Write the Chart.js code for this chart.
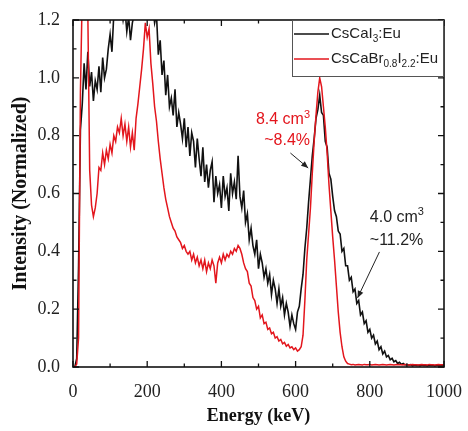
<!DOCTYPE html>
<html>
<head>
<meta charset="utf-8">
<script src="https://cdn.jsdelivr.net/npm/chart.js"></script>
<style>
  html, body { margin: 0; padding: 0; background: #fff; }
  canvas { display: block; }
</style>
</head>
<body>
<canvas id="c" width="468" height="431"></canvas>
<script>
// ---- Data ----
const energyKeV = [
  0,5,10,15,20,25,30,35,40,45,
  50,55,60,65,70,75,80,85,90,95,
  100,105,110,115,120,125,130,135,140,145,
  150,155,160,165,170,175,180,185,190,195,
  200,205,210,215,220,225,230,235,240,245,
  250,255,260,265,270,275,280,285,290,295,
  300,305,310,315,320,325,330,335,340,345,
  350,355,360,365,370,375,380,385,390,395,
  400,405,410,415,420,425,430,435,440,445,
  450,455,460,465,470,475,480,485,490,495,
  500,505,510,515,520,525,530,535,540,545,
  550,555,560,565,570,575,580,585,590,595,
  600,605,610,615,620,625,630,635,640,645,
  650,655,660,665,670,675,680,685,690,695,
  700,705,710,715,720,725,730,735,740,745,
  750,755,760,765,770,775,780,785,790,795,
  800,805,810,815,820,825,830,835,840,845,
  850,855,860,865,870,875,880,885,890,895,
  900,905,910,915,920,925,930,935,940,945,
  950,955,960,965,970,975,980,985,990,995,
  1000
];

// CsCaI3:Eu (black)
const cscai3 = [
  0.00,0.00,0.03,0.35,0.82,0.91,1.05,0.96,1.09,0.97,
  1.02,0.92,0.99,0.96,1.04,0.95,1.07,1.00,1.03,1.10,
  1.15,1.09,1.22,1.25,1.25,1.23,1.25,1.20,1.24,1.16,
  1.21,1.13,1.19,1.22,1.25,1.25,1.25,1.25,1.25,1.25,
  1.25,1.25,1.25,1.25,1.19,1.22,1.08,1.13,1.01,1.06,
  0.94,1.01,0.90,0.93,0.87,0.96,0.83,0.88,0.84,0.79,
  0.86,0.76,0.83,0.73,0.81,0.78,0.69,0.79,0.72,0.66,
  0.76,0.64,0.70,0.62,0.68,0.71,0.57,0.66,0.60,0.63,
  0.55,0.66,0.59,0.62,0.54,0.67,0.60,0.64,0.58,0.73,
  0.59,0.55,0.61,0.50,0.53,0.44,0.48,0.42,0.39,0.44,
  0.34,0.39,0.36,0.31,0.34,0.29,0.32,0.25,0.30,0.27,
  0.22,0.27,0.21,0.24,0.18,0.22,0.19,0.14,0.18,0.15,
  0.13,0.19,0.21,0.27,0.32,0.41,0.48,0.57,0.65,0.73,
  0.79,0.86,0.89,0.94,0.88,0.87,0.78,0.76,0.67,0.65,
  0.59,0.54,0.52,0.47,0.46,0.40,0.41,0.35,0.35,0.30,
  0.31,0.26,0.27,0.22,0.23,0.18,0.19,0.15,0.16,0.12,
  0.13,0.10,0.11,0.08,0.09,0.06,0.07,0.045,0.055,0.035,
  0.04,0.025,0.03,0.018,0.022,0.012,0.016,0.009,0.012,0.007,
  0.009,0.006,0.008,0.004,0.007,0.005,0.006,0.004,0.007,0.005,
  0.006,0.004,0.006,0.005,0.006,0.004,0.005,0.006,0.004,0.005,
  0.005
];

// CsCaBr0.8I2.2:Eu (red)
const cscabri = [
  0.00,0.00,0.01,0.10,0.95,1.30,1.30,1.30,1.22,0.68,
  0.56,0.52,0.55,0.60,0.69,0.68,0.74,0.70,0.75,0.72,
  0.77,0.74,0.80,0.78,0.83,0.81,0.86,0.80,0.84,0.78,
  0.83,0.76,0.81,0.75,0.86,0.91,0.97,1.03,1.10,1.19,
  1.14,1.17,1.05,0.98,0.90,0.85,0.78,0.72,0.67,0.62,
  0.58,0.55,0.52,0.50,0.48,0.47,0.45,0.44,0.43,0.41,
  0.42,0.40,0.39,0.40,0.37,0.39,0.36,0.38,0.35,0.37,
  0.34,0.37,0.33,0.36,0.34,0.37,0.35,0.29,0.36,0.38,
  0.36,0.39,0.37,0.39,0.38,0.40,0.39,0.41,0.40,0.42,
  0.41,0.39,0.36,0.34,0.33,0.29,0.28,0.24,0.23,0.20,
  0.21,0.17,0.18,0.15,0.155,0.13,0.135,0.115,0.12,0.10,
  0.105,0.09,0.095,0.08,0.085,0.072,0.078,0.066,0.07,0.06,
  0.066,0.055,0.06,0.07,0.11,0.23,0.37,0.46,0.55,0.67,
  0.78,0.87,0.95,1.00,0.97,0.90,0.83,0.74,0.63,0.54,
  0.45,0.37,0.28,0.19,0.12,0.07,0.035,0.02,0.012,0.010,
  0.008,0.009,0.007,0.008,0.009,0.008,0.007,0.009,0.008,0.008,
  0.009,0.007,0.008,0.009,0.008,0.007,0.008,0.009,0.008,0.007,
  0.008,0.009,0.008,0.007,0.008,0.009,0.008,0.008,0.007,0.009,
  0.008,0.007,0.008,0.009,0.008,0.008,0.007,0.008,0.009,0.008,
  0.008,0.007,0.009,0.008,0.008,0.007,0.008,0.009,0.008,0.008,
  0.008
];

const seriesLabels = ['CsCaI3:Eu', 'CsCaBr0.8I2.2:Eu'];
// legend text pieces: [text, isSubscript]
const legendPieces = [
  [['CsCaI', 0], ['3', 1], [':Eu', 0]],
  [['CsCaBr', 0], ['0.8', 1], ['I', 0], ['2.2', 1], [':Eu', 0]]
];
const xTickValues = [0, 200, 400, 600, 800, 1000];
const yTickValues = [0.0, 0.2, 0.4, 0.6, 0.8, 1.0, 1.2];

const BLACK = '#111111';
const RED = '#e3161d';
const SERIF = '"Liberation Serif", "Times New Roman", serif';
const SANS = '"Liberation Sans", Arial, sans-serif';

function drawSup(ctx, x, y, pieces, size, align, color) {
  // pieces: [text, mode] mode 0 normal, 1 subscript, 2 superscript
  const small = Math.round(size * 0.66);
  let total = 0;
  pieces.forEach(([t, m]) => {
    ctx.font = (m ? small : size) + 'px ' + SANS;
    total += ctx.measureText(t).width;
  });
  let cx = align === 'right' ? x - total : x;
  ctx.fillStyle = color;
  ctx.textBaseline = 'middle';
  ctx.textAlign = 'left';
  pieces.forEach(([t, m]) => {
    ctx.font = (m ? small : size) + 'px ' + SANS;
    const dy = m === 1 ? size * 0.32 : (m === 2 ? -size * 0.33 : 0);
    ctx.fillText(t, cx, y + dy);
    cx += ctx.measureText(t).width;
  });
}

function arrow(ctx, x1, y1, x2, y2) {
  ctx.strokeStyle = '#222';
  ctx.fillStyle = '#222';
  ctx.lineWidth = 1;
  ctx.beginPath(); ctx.moveTo(x1, y1); ctx.lineTo(x2, y2); ctx.stroke();
  const ang = Math.atan2(y2 - y1, x2 - x1);
  const L = 7, W = 3;
  ctx.beginPath();
  ctx.moveTo(x2, y2);
  ctx.lineTo(x2 - L * Math.cos(ang) + W * Math.sin(ang), y2 - L * Math.sin(ang) - W * Math.cos(ang));
  ctx.lineTo(x2 - L * Math.cos(ang) - W * Math.sin(ang), y2 - L * Math.sin(ang) + W * Math.cos(ang));
  ctx.closePath(); ctx.fill();
}

const decor = {
  id: 'decor',
  afterDatasetsDraw(chart) {
    const { ctx, chartArea: a, scales: { x, y } } = chart;
    ctx.save();
    // inward ticks on all sides
    ctx.strokeStyle = BLACK;
    ctx.lineWidth = 1.3;
    x.ticks.forEach(t => {
      const px = x.getPixelForValue(t.value);
      const len = (Math.round(t.value) % 200 === 0) ? 6 : 3.5;
      ctx.beginPath();
      ctx.moveTo(px, a.bottom); ctx.lineTo(px, a.bottom - len);
      ctx.moveTo(px, a.top); ctx.lineTo(px, a.top + len);
      ctx.stroke();
    });
    y.ticks.forEach(t => {
      const py = y.getPixelForValue(t.value);
      const len = (Math.round(t.value * 10) % 2 === 0) ? 6 : 3.5;
      ctx.beginPath();
      ctx.moveTo(a.left, py); ctx.lineTo(a.left + len, py);
      ctx.moveTo(a.right, py); ctx.lineTo(a.right - len, py);
      ctx.stroke();
    });
    // frame
    ctx.lineWidth = 1.6;
    ctx.strokeRect(a.left, a.top, a.right - a.left, a.bottom - a.top);

    // legend box (top-right inside plot)
    const lw = 152, lh = 57;
    const lx = a.right - lw, ly = a.top;
    ctx.fillStyle = '#fff';
    ctx.fillRect(lx, ly, lw, lh);
    ctx.strokeStyle = '#555';
    ctx.lineWidth = 1;
    ctx.strokeRect(lx + 0.5, ly + 0.5, lw - 1, lh - 1);
    const colors = [BLACK, RED];
    const rowsY = [ly + 14, ly + 39];
    legendPieces.forEach((pcs, i) => {
      ctx.strokeStyle = colors[i];
      ctx.lineWidth = 1.6;
      ctx.beginPath();
      ctx.moveTo(lx + 2, rowsY[i]); ctx.lineTo(lx + 37, rowsY[i]);
      ctx.stroke();
      drawSup(ctx, lx + 39, rowsY[i], pcs, 15, 'left', '#222');
    });

    // annotations (anchored in data coordinates)
    const X = v => x.getPixelForValue(v), Y = v => y.getPixelForValue(v);
    drawSup(ctx, X(639), Y(0.854), [['8.4 cm', 0], ['3', 2]], 16, 'right', RED);
    drawSup(ctx, X(639), Y(0.783), [['~8.4%', 0]], 16, 'right', RED);
    arrow(ctx, X(586), Y(0.740), X(634), Y(0.688));

    drawSup(ctx, X(800), Y(0.518), [['4.0 cm', 0], ['3', 2]], 16, 'left', '#222');
    drawSup(ctx, X(800), Y(0.438), [['~11.2%', 0]], 16, 'left', '#222');
    arrow(ctx, X(826), Y(0.398), X(767), Y(0.239));
    ctx.restore();
  }
};

const toPoints = arr => energyKeV.map((e, i) => ({ x: e, y: arr[i] }));

new Chart(document.getElementById('c'), {
  type: 'line',
  data: {
    datasets: [
      { label: seriesLabels[0], data: toPoints(cscai3), borderColor: BLACK, borderWidth: 1.6,
        pointRadius: 0, tension: 0, fill: false, order: 2 },
      { label: seriesLabels[1], data: toPoints(cscabri), borderColor: RED, borderWidth: 1.5,
        pointRadius: 0, tension: 0, fill: false, order: 1 }
    ]
  },
  options: {
    responsive: false,
    animation: false,
    devicePixelRatio: 1,
    layout: { padding: { left: 0, right: 21, top: 20, bottom: 0 } },
    plugins: { legend: { display: false }, tooltip: { enabled: false } },
    scales: {
      x: {
        type: 'linear', min: 0, max: 1000,
        afterFit(s) { s.height = 64; },
        grid: { display: false },
        border: { display: false },
        ticks: {
          stepSize: 100, autoSkip: false, maxRotation: 0,
          callback: v => xTickValues.includes(Math.round(v)) ? String(Math.round(v)) : '',
          font: { family: SERIF, size: 18 }, color: '#222', padding: 6
        },
        title: {
          display: true, text: 'Energy (keV)', color: '#111',
          font: { family: SERIF, size: 18, weight: 'bold' },
          padding: { top: 0, bottom: 4 }
        }
      },
      y: {
        min: 0, max: 1.2,
        afterFit(s) { s.width = 73; },
        grid: { display: false },
        border: { display: false },
        ticks: {
          stepSize: 0.1, autoSkip: false,
          callback: v => {
            const r = Math.round(v * 10) / 10;
            return yTickValues.some(t => Math.abs(t - r) < 1e-6) ? r.toFixed(1) : '';
          },
          font: { family: SERIF, size: 18 }, color: '#222', padding: 5
        },
        title: {
          display: true, text: 'Intensity (Normalized)', color: '#111',
          font: { family: SERIF, size: 20, weight: 'bold' },
          padding: { top: 9, bottom: 0 }
        }
      }
    }
  },
  plugins: [decor]
});
</script>
</body>
</html>
